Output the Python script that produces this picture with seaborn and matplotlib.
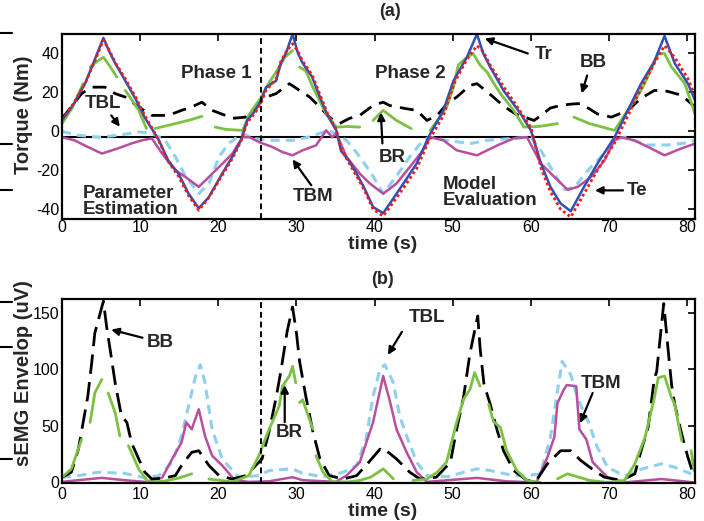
import numpy as np
import pandas as pd
import matplotlib
matplotlib.use("Agg")
import matplotlib.pyplot as plt
from matplotlib.lines import Line2D
import seaborn as sns

N = np.nan

# ---------------- panel (a): torque (Nm) ----------------
tr_t = [0, 1.5, 3, 4.3, 5.3, 6.0, 6.8, 8.1, 9.5, 10.6, 11.7, 12.4, 13.6, 14.9, 16.2, 17.5, 18.8,
        20.5, 21.8, 22.9, 23.7, 24.8, 25.6, 26.1, 27.4, 28.0, 28.7, 29.5, 30.2, 30.8, 32, 33, 34,
        35.1, 35.7, 36.7, 37.7, 38.8, 39.8, 41.1, 42.3, 43.7, 45.4, 46.9, 48.8, 50.1, 51.8, 53.1,
        53.9, 54.8, 56.5, 58.7, 60, 61.3, 62.5, 63.8, 65.1, 66.8, 68.5, 70.7, 72.4, 74.1, 75.8,
        77.1, 78.4, 80.1, 81]
tr_v = [5.6, 14, 25, 38, 48, 41.5, 35, 26, 16, 7, 0, -4.6, -15, -21.7, -32, -39.5, -33.7,
        -21.7, -13, -4.6, 5.6, 11, 17, 22.6, 26, 35, 40.5, 50, 40, 35, 28, 17.6, 8,
        0.5, -10, -15, -21.7, -30, -38.8, -42, -35, -26.7, -16.4, -2.9, 10.8, 26, 38, 50,
        40, 33, 21, 9, 0.5, -16.6, -28.5, -37, -41, -28.5, -16.6, -3, 10.8, 24.5, 36,
        49, 35, 24.5, 16]
te_v = [6, 14.5, 25, 37, 47, 42, 35.5, 27, 17, 8, 0.5, -5, -15.5, -23, -33, -40.5, -34,
        -22.5, -14, -5, 4.5, 10, 16, 21, 27, 36, 41, 45, 41, 36, 29, 19, 9,
        1, -9, -16, -23, -31, -40, -43.5, -37, -29, -19, -5, 8, 24, 37, 44,
        41, 34, 23, 10, 2, -19, -31, -40, -44, -32, -20, -6, 8, 22, 35,
        44, 38, 27, 18]

bb_t = [0, 1.2, 2.5, 3.8, 5.5, 6.8, 8.1, 9.8, 11.5, 13.6, 15.3, 16.6, 17.9, 19.2, 20.9, 21.8,
        23.5, 24.8, 26.1, 27.4, 29.1, 30.4, 31.7, 33, 34.2, 35.5, 36.8, 38.1, 39.8, 41.1, 41.9,
        44.1, 45.4, 46.7, 48, 49.3, 50.5, 52.2, 53.1, 54.2, 55.2, 56.5, 58, 60.4, 61.3, 62.5,
        63.8, 65.1, 66.4, 68.5, 70.3, 72.4, 74.1, 75.8, 77, 78, 79.3, 81]
bb_v = [6.7, 12.5, 19.4, 22.7, 22.7, 19.4, 17.6, 12.5, 8.2, 8.2, 10.8, 12.5, 15, 10.8, 8.2, 6.7,
        7.3, 12.5, 17.6, 19.4, 24.5, 21, 17.6, 12.5, 7.3, 4, 6.7, 8.2, 13.3, 15, 13.3,
        11.6, 10.8, 5.6, 8.2, 14.3, 17.6, 23.6, 24.5, 21, 17.6, 13, 9, 5.6, 8.2, 12,
        13.3, 14, 14.3, 9, 7.3, 10.8, 17, 21, 21, 20, 18.5, 12.5]

br_t = [0, 1.3, 2.7, N, 3.6, 4.5, 5.3, 6.2, 7.0, N, 8.1, 8.8, 9.8, 10.8, N, 11.9, 13.5, 15, 16.5,
        17.9, N, 19.6, 21, 23.1, 24, 25.4, 26.5, 27.8, 28.5, 29.5, N, 30.4, 31.2, 32.1, 33.8, 35.1,
        36.5, 38.1, N, 39.8, 41.1, 42.8, 44.7, N, 47.1, 48.3, 49.2, 50.1, 50.7, 51.5, 52.6, 53.5,
        54.4, 55.2, 56.1, 57.8, 59.1, 61, 63.4, N, 65.5, 67.5, 70.7, 72.4, 74.1, 75.2, 76.3, 77.1,
        78, 78.6, 79.7, 81]
br_v = [4, 12, 24.5, N, 33, 36, 38, 33, 28, N, 21, 17, 11, 1.5, N, 1.5, 3, 4.5, 6,
        7.7, N, 2.2, 1, 0.5, 9, 17, 25, 33, 38, 41.5, N, 33, 31, 22.7, 9, 2.2,
        2.5, 2.2, N, 5.6, 10.8, 5.6, 1.4, N, 0.5, 7, 12.4, 22.7, 34, 37, 40, 34,
        30.4, 25, 19.4, 10.8, 2.2, 2.5, 4, N, 7.3, 4, 0.5, 10.8, 21, 30, 40, 40,
        33, 30, 24.5, 9]

tbl_t = [0, 2, 4.6, 7.2, 9.8, 11.5, 13.2, 14.5, 15.8, 17.5, 18.8, 20.1, 21.4, 23.1, 24.4, 26.5,
         29.5, 31.5, 33, 34.2, 36.4, 38.1, 39.8, 41.1, 42.8, 44.5, 46.2, 47.1, 49.2, 52.2, 54.4,
         57.8, 60, 61.3, 63, 64.3, 65.6, 67.3, 69, 70.7, 72, 74.9, 77.5, 79.7, 81]
tbl_v = [0, -2, -3, -2, -0.3, -1, -4.6, -13, -23, -32, -26.8, -13, -6, -1, -3.6, -4.6,
         -4.6, -3, -1, 0.5, -4.6, -13, -23, -32, -23, -13, -4.6, -3, -4.6, -6.3, -4.6,
         -3.6, -3, -10, -21.7, -30, -28.6, -20, -13, -4.6, -3, -7, -7, -6, -4.6]

tbm_t = [0, 1.6, 3.3, 5.1, 7.2, 8.9, 10.2, 11.5, 12.8, 14.5, 15.8, 17.5, 18.8, 20.1, 21.8, 23.1,
         24, 25.2, 26.9, 28.2, 29.5, 30.8, 32.5, 33.8, 34.6, 35.1, 36.4, 38.1, 39.4, 41.1, 42.8,
         44.5, 46.2, 47.1, 48.8, 50.5, 53.1, 55.7, 57.8, 59.5, 61.3, 63, 64.7, 66, 67.7, 69.4,
         70.7, 71.5, 73.2, 75, 77.1, 79.3, 81]
tbm_v = [-3, -4.6, -8, -11.4, -8.7, -6.2, -4.6, -3.6, -11.4, -20, -23.4, -28.5, -23.4, -18.3, -11.4, -3,
         -3, -5.5, -8, -10.6, -12.3, -9.7, -7.2, 0.5, -3, -1, -13, -21.7, -26.8, -32, -26.8,
         -18.3, -9.7, -3, -4.6, -9.7, -12.3, -7.2, -3.6, -3, -16.6, -23.4, -30, -28.5, -23.4, -15,
         -4.6, -3, -4.6, -8, -12.3, -8.7, -6.3]

# ---------------- panel (b): sEMG envelope (uV) ----------------
bb2_t = [0, 1.2, 2.1, 3.3, 3.8, 4.2, 5.1, 5.3, 5.7, 6.3, 6.8, 7.6, 8.3, 8.9, 9.8, 10.6, 11.5,
         13.2, 14.5, 15.3, 16.6, 17.5, 18.8, 20.1, 21.8, 23.5, 24.8, 25.6, 26.5, 27.4, 28, 28.8,
         29.5, 30, 30.4, 31.2, 32.1, 33, 34.2, 36, 37.7, 38.9, 40.7, 41.1, 41.5, 42.8, 44.5, 45.8,
         47.9, 49.7, 50.5, 51.4, 52.2, 53.2, 53.5, 54, 54.8, 55.7, 56.5, 57.8, 59.5, 60.7, 62.1,
         63.8, 65.1, 66.4, 68.1, 69.4, 71.6, 73.3, 74.1, 75, 75.8, 76.1, 77, 77.5, 78, 78.4,
         79.3, 80.1, 80.9]
bb2_v = [4.6, 9, 29.5, 76, 105.5, 132, 155, 160, 138, 111, 88, 59, 53, 35, 21, 9, 3,
         4, 6, 15, 26.6, 28, 15, 6, 3, 6, 15, 20.8, 45, 75, 98, 133,
         155, 132, 107, 76, 45, 21, 6, 3, 6, 15, 29.5, 27, 28, 20.8, 9, 3,
         4.6, 17.8, 47, 76, 114, 147, 118.6, 86.6, 69, 45.6, 28, 10.5, 1.8, 1.8, 16.4,
         28, 28, 19.3, 10.5, 4.6, 1.8, 7.6, 28, 48.5, 92, 98, 158, 121.6, 86.6, 69,
         42.7, 22, 4.6]

br2_t = [0, 1.2, 2.5, N, 3.6, 4.2, 5.1, N, 5.9, 6.8, 7.4, N, 8.5, 9.8, 11, 13, 15, 16.6, N,
         18.8, 21.8, 23.9, 25.2, 26.5, 26.9, 27.8, 28.2, 29.1, 29.5, 29.9, N, 30.4, 30.8, 32.1, N,
         32.5, 33.4, 34.6, 36.7, 38.1, 39.5, 41.1, 42.4, N, 44.9, 46.7, 48, 49.2, 50.5, 51.4, 52.2,
         52.8, 53.5, N, 54.6, 55.2, 56.1, 56.9, 58.2, 59.5, 61.2, N, 63.4, 64.7, 67.5, 69.8, 72,
         73.3, 74.6, 75.8, 76.3, 77.1, 78, 78.4, 79.3, N, 80.5, 80.9]
br2_v = [4.6, 12, 38, N, 53, 79, 91, N, 79, 61.7, 41, N, 32.5, 12, 0.5, 1, 4, 7.6, N,
         3, 0.5, 6, 23.7, 47, 53, 67.5, 85, 94, 102.6, 88, N, 70.5, 73, 47, N,
         23.7, 9, 0.5, 0.5, 1.8, 4.6, 12, 3.2, N, 1.8, 3, 9, 17.8, 53, 73.7, 82,
         97, 85, N, 69, 54, 48.5, 28, 10.5, 1.8, 0, N, 3.2, 7.6, 1.8, 0, 1.8,
         16.4, 39.7, 74.8, 92.4, 94, 74.8, 69, 36.8, N, 28, 10]

tbl2_t = [0, 2.1, 4.6, 8, 10.6, 12.4, 14.1, 15.3, 16.2, 17.1, 17.7, 18.3, 19.2, 20.5, 22.6, 25.2,
          26.5, 29.5, 30.8, 33.4, 36, 37.7, 38.9, 39.8, 40.7, 41.3, 42.4, 43.2, 44.1, 45.4, 46.7,
          49.3, 51.4, 53.1, 54.8, 57.8, 59.5, 61.2, 62.5, 63.4, 64, 65.1, 66, 67.3, 68.5, 69.8,
          72, 74.1, 76.7, 78.4, 80.5]
tbl2_v = [4.6, 6, 9, 8, 4, 6, 17.8, 41, 67.5, 94, 104, 88, 47, 20.8, 4.6, 6,
          10.5, 12, 8, 5, 9, 15, 38, 76, 100, 104, 88, 59, 41, 17.8, 6,
          5, 9, 12, 10.5, 6, 6, 7.6, 39.7, 80.7, 107, 95, 74, 54.4, 31, 13.4,
          6, 11.7, 16.4, 13.4, 7.6]

tbm2_t = [0, 2.1, 5.1, 8, 10.6, 12.8, 14.1, 15.3, 15.9, 16.6, 17.5, 18.3, 19.2, 20.5, 22.1, 23.9,
          26.5, 29.5, 30.8, 35, 36.4, 38.1, 39.8, 41.1, 42, 42.8, 44.1, 45.4, 46.7, 53.1, 56.9,
          60.7, 62.1, 63, 63.4, 64.2, 64.6, 65.8, 66.2, 67.1, 67.9, 69.8, 72, 76.7, 80.9]
tbm2_v = [0.5, 2, 4, 2, 0.5, 4, 20.8, 35.4, 53, 47, 64.6, 41, 23.7, 15, 2, 0.5,
          1, 4.6, 2, 0.5, 6, 17.8, 53, 94, 70.5, 47, 26.6, 9, 0.5, 4, 1,
          0, 22, 40, 70, 82, 86, 85, 47, 38, 18, 4.6, 0, 3, 0]

x_ticks = [0, 10, 20, 30, 40, 50, 60, 70, 80]
yticks_a = [-40, -20, 0, 20, 40]
yticks_b = [0, 50, 100, 150]

# ---------------- styling ----------------
sns.set_theme(style="white")
plt.rcParams["font.family"] = ["Liberation Sans", "DejaVu Sans"]
plt.rcParams["axes.unicode_minus"] = False
plt.rcParams["axes.linewidth"] = 1.6
plt.rcParams["xtick.direction"] = "in"
plt.rcParams["ytick.direction"] = "in"

C_TR = "#3050b8"
C_TE = "#ee1c1c"
C_BB = "black"
C_BR = "#7cc142"
C_TBL = "#8fd0f0"
C_TBM = "#b84f9e"


def segs(t, v):
    t = np.asarray(t, float)
    v = np.asarray(v, float)
    seg = np.cumsum(np.isnan(t) | np.isnan(v))
    df = pd.DataFrame({"t": t, "v": v, "seg": seg})
    return df.dropna()


def draw(ax, t, v, color, lw, ls):
    df = segs(t, v)
    sns.lineplot(data=df, x="t", y="v", units="seg", estimator=None, sort=False,
                 color=color, linewidth=lw, linestyle=ls, ax=ax, legend=False)


fig = plt.figure(figsize=(7.04, 5.21), dpi=100)
fig.patch.set_facecolor("white")
ax1 = fig.add_axes([62 / 704, 1 - 219 / 521, 633 / 704, 185 / 521])
ax2 = fig.add_axes([62 / 704, 1 - 483 / 521, 633 / 704, 184 / 521])

# panel a
draw(ax1, tbl_t, tbl_v, C_TBL, 2.2, (0, (3, 2)))
draw(ax1, tbm_t, tbm_v, C_TBM, 1.8, "-")
draw(ax1, bb_t, bb_v, C_BB, 2.0, (0, (5, 3)))
draw(ax1, br_t, br_v, C_BR, 2.0, "-")
draw(ax1, tr_t, tr_v, C_TR, 1.8, "-")
draw(ax1, tr_t, te_v, C_TE, 2.0, (0, (1, 1)))
ax1.axhline(-3, color="black", lw=1.5, zorder=1)
ax1.axvline(25.5, color="black", lw=1.4, ls=(0, (3, 2)))
ax1.set_xlim(0, 81)
ax1.set_ylim(-45, 50)

# panel b
draw(ax2, tbl2_t, tbl2_v, C_TBL, 2.2, (0, (3, 2)))
draw(ax2, tbm2_t, tbm2_v, C_TBM, 1.8, "-")
draw(ax2, bb2_t, bb2_v, C_BB, 2.0, (0, (7, 3)))
draw(ax2, br2_t, br2_v, C_BR, 2.0, "-")
ax2.axvline(25.5, color="black", lw=1.4, ls=(0, (3, 2)))
ax2.set_xlim(0, 81)
ax2.set_ylim(-0.5, 162)

for ax, yt, xpad in ((ax1, yticks_a, 1.0), (ax2, yticks_b, 3.0)):
    ax.set_xticks(x_ticks)
    ax.set_yticks(yt)
    ax.tick_params(axis="both", which="both", direction="in", top=True, right=True,
                   length=5, width=1.2, labelsize=11.5, colors="black")
    ax.tick_params(axis="x", pad=xpad)
    ax.tick_params(axis="y", pad=2)
    for s in ax.spines.values():
        s.set_visible(True)
        s.set_color("black")
        s.set_linewidth(1.6)
    ax.set_xlabel("time (s)", fontsize=14, fontweight="bold")
    ax.set_facecolor("white")

ax1.set_ylabel("Torque (Nm)", fontsize=14.5, fontweight="bold")
ax2.set_ylabel("sEMG Envelop (uV)", fontsize=14.5, fontweight="bold")
ax1.xaxis.set_label_coords(0.507, -0.092)
ax2.xaxis.set_label_coords(0.507, -0.108)
ax1.yaxis.set_label_coords(-0.046, 0.562)
ax2.yaxis.set_label_coords(-0.046, 0.598)

fig.text(390 / 704, 1 - 12 / 521, "(a)", ha="center", va="center", fontsize=13, fontweight="bold")
fig.text(383 / 704, 1 - 280 / 521, "(b)", ha="center", va="center", fontsize=13, fontweight="bold")

tk = dict(fontsize=13.5, fontweight="bold", ha="center", va="center")
ap = dict(arrowstyle="-|>", color="black", lw=1.6, mutation_scale=11, shrinkA=0, shrinkB=0)


def note(ax, text, xy_text, tail, tip):
    ax.text(*xy_text, text, **tk)
    ax.annotate("", xy=tip, xytext=tail, arrowprops=ap)


note(ax1, "TBL", (5.3, 14.4), (6.3, 8.2), (7.4, 2.4))
note(ax1, "TBM", (32.1, -33.3), (31.9, -27.7), (29.5, -14.4))
note(ax1, "BR", (42.3, -13.3), (41.0, -6.2), (40.8, 9.7))
note(ax1, "Tr", (61.6, 39.5), (59.6, 40.0), (54.1, 47.7))
note(ax1, "BB", (68.0, 35.4), (67.2, 28.7), (66.5, 19.5))
note(ax1, "Te", (73.6, -30.3), (71.8, -30.3), (68.2, -30.3))
ax1.text(19.7, 29.7, "Phase 1", **tk)
ax1.text(44.6, 29.7, "Phase 2", **tk)
ax1.text(2.6, -36.0, "Parameter\nEstimation", fontsize=13.5, fontweight="bold",
         ha="left", va="center", linespacing=0.95)
ax1.text(48.7, -31.5, "Model\nEvaluation", fontsize=13.5, fontweight="bold",
         ha="left", va="center", linespacing=0.95)

note(ax2, "BB", (12.6, 124), (10.3, 127.8), (6.3, 134.9))
note(ax2, "BR", (29.1, 44.4), (28.5, 53.2), (28.5, 86))
note(ax2, "TBL", (46.7, 145.5), (43.5, 133), (41.7, 112.7))
note(ax2, "TBM", (69.0, 87.8), (67.9, 79), (66.3, 52.4))

# stray marks at the left border of the original figure
for py in (33, 144, 190, 302, 347, 459):
    y = 1 - py / 521
    fig.add_artist(Line2D([0, 12 / 704], [y, y], color="black", lw=1.5))

fig.savefig("out.png", dpi=100, facecolor="white")
